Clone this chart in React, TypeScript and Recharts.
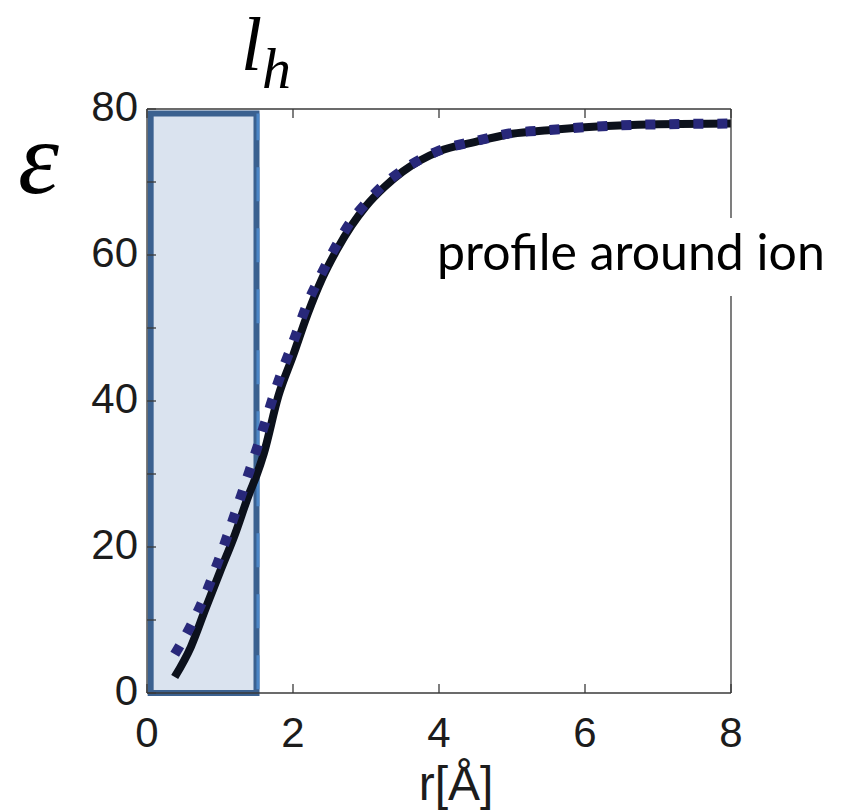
import { LineChart, Line, XAxis, YAxis, ReferenceArea, ReferenceLine } from 'recharts';

// r in Angstrom, dielectric profile values
const radius = [0.38, 0.6, 0.8, 1.0, 1.2, 1.4, 1.5, 1.6, 1.8, 2.0, 2.2, 2.4, 2.6, 2.8, 3.0, 3.25, 3.5, 4.0, 4.5, 5.0, 5.5, 6.0, 7.0, 8.0];
const epsSolid = [2.2, 6.3, 11.5, 16.6, 21.6, 27.3, 29.8, 32.8, 40.7, 46.2, 51.9, 56.8, 60.7, 64.0, 66.7, 69.3, 71.4, 74.2, 75.5, 76.6, 77.1, 77.5, 77.9, 78.0];
const epsDotted = [5.3, 9.2, 13.5, 18.7, 24.4, 30.3, 33.3, 36.5, 42.7, 48.0, 53.4, 57.6, 61.4, 64.7, 67.1, 69.7, 71.6, 74.3, 75.6, 76.7, 77.1, 77.5, 77.9, 78.0];

const xTicks = [0, 2, 4, 6, 8];
const yTicks = [0, 10, 20, 30, 40, 50, 60, 70, 80];
const yLabelStep = 20;
const shellEdge = 1.5; // l_h

const data = radius.map((r, i) => ({ r, solid: epsSolid[i], dotted: epsDotted[i] }));

const W = 841;
const H = 811;
const PLOT = { left: 147, right: 731, top: 109, bottom: 693 };
const Y_AXIS_W = 60;
const X_AXIS_H = 60;
const FRAME = '#3a3a3a';
const TICK_LEN = 9;
const tickFont = { fontFamily: '"Liberation Sans", Arial, sans-serif', fontSize: 42, fill: '#1c1c1c' };

const BottomTick = (props: any) => {
  const { x, payload } = props;
  return (
    <g>
      <line x1={x} y1={PLOT.bottom} x2={x} y2={PLOT.bottom - TICK_LEN} stroke={FRAME} strokeWidth={1.3} />
      <text x={x} y={747} textAnchor="middle" {...tickFont}>{payload.value}</text>
    </g>
  );
};

const TopTick = (props: any) => {
  const { x } = props;
  return <line x1={x} y1={PLOT.top} x2={x} y2={PLOT.top + TICK_LEN} stroke={FRAME} strokeWidth={1.3} />;
};

const LeftTick = (props: any) => {
  const { y, payload } = props;
  return (
    <g>
      <line x1={PLOT.left} y1={y} x2={PLOT.left + TICK_LEN} y2={y} stroke={FRAME} strokeWidth={1.3} />
      {payload.value % yLabelStep === 0 && (
        <text x={PLOT.left - 9} y={y + 12} textAnchor="end" {...tickFont}>{payload.value}</text>
      )}
    </g>
  );
};

const RightTick = (props: any) => {
  const { y } = props;
  return <line x1={PLOT.right} y1={y} x2={PLOT.right - TICK_LEN} y2={y} stroke={FRAME} strokeWidth={1.3} />;
};

export default function App() {
  return (
    <div style={{ position: 'absolute', left: 0, top: 0, width: W, height: H, background: '#fff' }}>
      <LineChart
        width={W}
        height={H}
        data={data}
        margin={{ top: PLOT.top - 1, right: W - PLOT.right - 1, bottom: H - PLOT.bottom - X_AXIS_H, left: PLOT.left - Y_AXIS_W }}
      >
        <XAxis
          xAxisId="bottom"
          dataKey="r"
          type="number"
          domain={[0, 8]}
          ticks={xTicks}
          interval={0}
          height={X_AXIS_H}
          tickLine={false}
          axisLine={{ stroke: FRAME, strokeWidth: 1.3 }}
          tick={BottomTick}
        />
        <XAxis
          xAxisId="top"
          orientation="top"
          dataKey="r"
          type="number"
          domain={[0, 8]}
          ticks={xTicks}
          interval={0}
          height={1}
          tickLine={false}
          axisLine={{ stroke: FRAME, strokeWidth: 1.3 }}
          tick={TopTick}
        />
        <YAxis
          yAxisId="left"
          type="number"
          domain={[0, 80]}
          ticks={yTicks}
          interval={0}
          width={Y_AXIS_W}
          tickLine={false}
          axisLine={{ stroke: FRAME, strokeWidth: 1.3 }}
          tick={LeftTick}
        />
        <YAxis
          yAxisId="right"
          orientation="right"
          type="number"
          domain={[0, 80]}
          ticks={yTicks}
          interval={0}
          width={1}
          tickLine={false}
          axisLine={{ stroke: FRAME, strokeWidth: 1.3 }}
          tick={RightTick}
        />
        <ReferenceArea
          xAxisId="bottom"
          yAxisId="left"
          x1={0.05}
          x2={shellEdge}
          y1={0}
          y2={79.4}
          fill="#dae3ef"
          fillOpacity={1}
          stroke="#3b6190"
          strokeWidth={6}
        />
        <ReferenceLine
          xAxisId="bottom"
          yAxisId="left"
          segment={[{ x: shellEdge + 0.02, y: 0.5 }, { x: shellEdge + 0.02, y: 79.4 }]}
          stroke="#4c86c6"
          strokeWidth={3}
          strokeDasharray="34 27"
        />
        <Line
          xAxisId="bottom"
          yAxisId="left"
          dataKey="solid"
          type="monotone"
          stroke="#0c111c"
          strokeWidth={8}
          dot={false}
          isAnimationActive={false}
        />
        <Line
          xAxisId="bottom"
          yAxisId="left"
          dataKey="dotted"
          type="monotone"
          stroke="#28287a"
          strokeWidth={10}
          strokeDasharray="10 14"
          dot={false}
          isAnimationActive={false}
        />
      </LineChart>
      <svg width={W} height={H} style={{ position: 'absolute', left: 0, top: 0, pointerEvents: 'none' }}>
        <text x={18} y={193} fontFamily='"Liberation Serif", serif' fontStyle="italic" fontSize={104} fill="#000">ε</text>
        <text x={241} y={70} fontFamily='"Liberation Serif", serif' fontStyle="italic" fontSize={76} fill="#000">l</text>
        <text x={262} y={88} fontFamily='"Liberation Serif", serif' fontStyle="italic" fontSize={58} fill="#000">h</text>
        <text x={456} y={800} textAnchor="middle" {...tickFont} fontSize={48}>r[Å]</text>
        <rect x={428} y={218} width={405} height={78} fill="#fff" />
        <text x={437} y={270} fontFamily="Lato, sans-serif" fontSize={50} fill="#000">profile around ion</text>
      </svg>
    </div>
  );
}
